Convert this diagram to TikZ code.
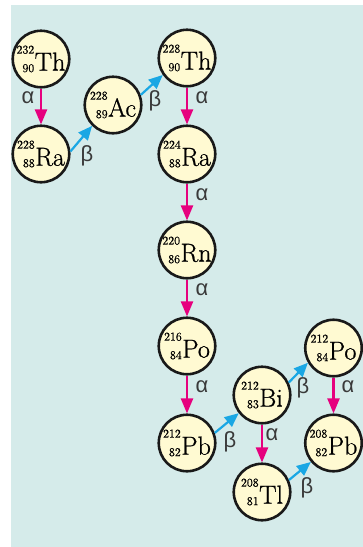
\documentclass[tikz,border=0pt]{standalone}
\usepackage{fontspec}
\newfontfamily\grk{Liberation Sans}
\newfontfamily\elem[FakeBold=0.8]{Latin Modern Roman}
\usetikzlibrary{arrows.meta}
\definecolor{bgteal}{HTML}{D5EBEA}
\definecolor{nucfill}{HTML}{FFFAD2}
\definecolor{alphac}{HTML}{E6007E}
\definecolor{betac}{HTML}{1AA7E4}
\definecolor{lblc}{HTML}{3A3A3A}
\newcommand\iso[3]{{\elem\fontsize{12}{12}\selectfont\raisebox{17pt}{#1}\llap{\raisebox{-1.5pt}{#2}}}\kern0.5pt{\elem\fontsize{26}{26}\selectfont #3}}
\begin{document}
\begin{tikzpicture}[x=1pt,y=-1pt,
  nuc/.style={circle,draw=black!90,line width=2.6pt,fill=nucfill,minimum size=56.5pt,inner sep=0pt},
  adecay/.style={color=alphac,line width=2.2pt,-{Triangle[width=12pt,length=15pt]}},
  bdecay/.style={color=betac,line width=2.2pt,-{Triangle[width=12pt,length=14pt]}},
  lbl/.style={font=\grk\fontsize{22}{22}\selectfont,text=lblc,inner sep=0pt}]
\useasboundingbox (0,0) rectangle (363,547);
\fill[bgteal] (11,5) rectangle (363,547);
% nuclides
\node[nuc] (th1) at (41,59) {\iso{232}{90}{Th}};
\node[nuc] (ra1) at (41,154) {\iso{228}{88}{Ra}};
\node[nuc] (ac) at (113,105) {\iso{228}{89}{Ac}};
\node[nuc] (th2) at (187,58) {\iso{228}{90}{Th}};
\node[nuc] (ra2) at (187,154) {\iso{224}{88}{Ra}};
\node[nuc] (rn) at (187,250) {\iso{220}{86}{Rn}};
\node[nuc] (po1) at (187,346) {\iso{216}{84}{Po}};
\node[nuc] (pb1) at (187,443) {\iso{212}{82}{Pb}};
\node[nuc] (bi) at (262,395) {\iso{212}{83}{Bi}};
\node[nuc] (po2) at (333.5,348) {\iso{212}{84}{Po}};
\node[nuc] (pb2) at (333.5,443) {\iso{208}{82}{Pb}};
\node[nuc] (tl) at (262,492) {\iso{208}{81}{Tl}};
% alpha decays
\draw[adecay] (th1) -- (ra1);
\draw[adecay] (th2) -- (ra2);
\draw[adecay] (ra2) -- (rn);
\draw[adecay] (rn) -- (po1);
\draw[adecay] (po1) -- (pb1);
\draw[adecay] (bi) -- (tl);
\draw[adecay] (po2) -- (pb2);
% beta decays
\draw[bdecay] (ra1.5) -- (ac.225);
\draw[bdecay] (ac.20) -- (th2.215);
\draw[bdecay] (pb1.20) -- (bi.218);
\draw[bdecay] (bi.25) -- (po2.210);
\draw[bdecay] (tl.24) -- (pb2.220);
% labels
\node[lbl] (la1) at (28,98) {α};
\node[lbl] (la2) at (202,98) {α};
\node[lbl] (la3) at (202,195) {α};
\node[lbl] (la4) at (202,290) {α};
\node[lbl] (la5) at (202,387) {α};
\node[lbl] (la6) at (272,435) {α};
\node[lbl] (la7) at (348,387) {α};
\node[lbl] (lb1) at (87,156) {β};
\node[lbl] (lb2) at (155,101) {β};
\node[lbl] (lb3) at (230,442) {β};
\node[lbl] (lb4) at (303,388) {β};
\node[lbl] (lb5) at (307,488) {β};
\end{tikzpicture}
\end{document}
